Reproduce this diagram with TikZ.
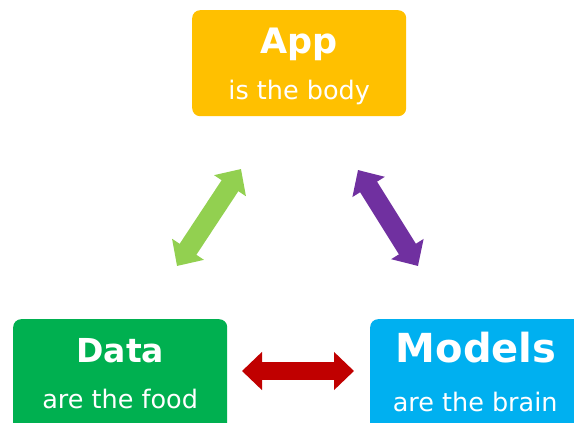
\documentclass[tikz,border=0pt]{standalone}
\usepackage{fontspec}
\setmainfont{DejaVu Sans}
\usetikzlibrary{arrows.meta}

\definecolor{appyellow}{HTML}{FFC000}
\definecolor{datagreen}{HTML}{00B050}
\definecolor{modelblue}{HTML}{00B0F0}
\definecolor{lightgreen}{HTML}{92D050}
\definecolor{darkpurple}{HTML}{7030A0}
\definecolor{darkred}{HTML}{C00000}

\tikzset{
  box/.style={rounded corners=8pt, minimum width=214pt, inner sep=0pt, anchor=north west},
  boxtitle/.style={text=white, anchor=base, font=\bfseries\fontsize{#1}{#1}\selectfont},
  boxsub/.style={text=white, anchor=base, font=\fontsize{25.5}{26}\selectfont},
  fatarrow/.style={line width=#1, {Triangle[width=37pt,length=20pt]}-{Triangle[width=37pt,length=20pt]}},
  fatarrow/.default=20pt
}

\begin{document}
\begin{tikzpicture}[x=1pt,y=-1pt]
			\useasboundingbox (0,0) rectangle (574,423);
			\clip (0,0) rectangle (574,423);

			% boxes
			\node[box, fill=appyellow, minimum height=106pt] (app) at (192,10) {};
			\node[box, fill=datagreen, minimum height=115pt] (data) at (13,319) {};
			\node[box, fill=modelblue, minimum height=115pt] (models) at (370,319) {};

			% box texts
			\node[boxtitle=35] (apptitle) at ([yshift=-43pt]app.north) {App};
			\node[boxsub] (appsub) at ([yshift=-89pt]app.north) {is the body};
			\node[boxtitle=33] (datatitle) at ([yshift=-43pt]data.north) {Data};
			\node[boxsub] (datasub) at ([yshift=-89pt]data.north) {are the food};
			\node[boxtitle=40] (modeltitle) at ([yshift=-43pt,xshift=-1pt]models.north) {Models};
			\node[boxsub] (modelsub) at ([yshift=-92pt,xshift=-2pt]models.north) {are the brain};

			% arrow ends
			\coordinate (ga) at (241,169);
			\coordinate (gd) at (177,266);
			\coordinate (pa) at (358,170);
			\coordinate (pm) at (418,266);
			\coordinate (rd) at (242,371);
			\coordinate (rm) at (354,371);

			% arrows
			\draw[fatarrow, lightgreen] (ga) -- (gd);
			\draw[fatarrow, darkpurple] (pa) -- (pm);
			\draw[fatarrow=18pt, darkred] (rd) -- (rm);
		\end{tikzpicture}
\end{document}
